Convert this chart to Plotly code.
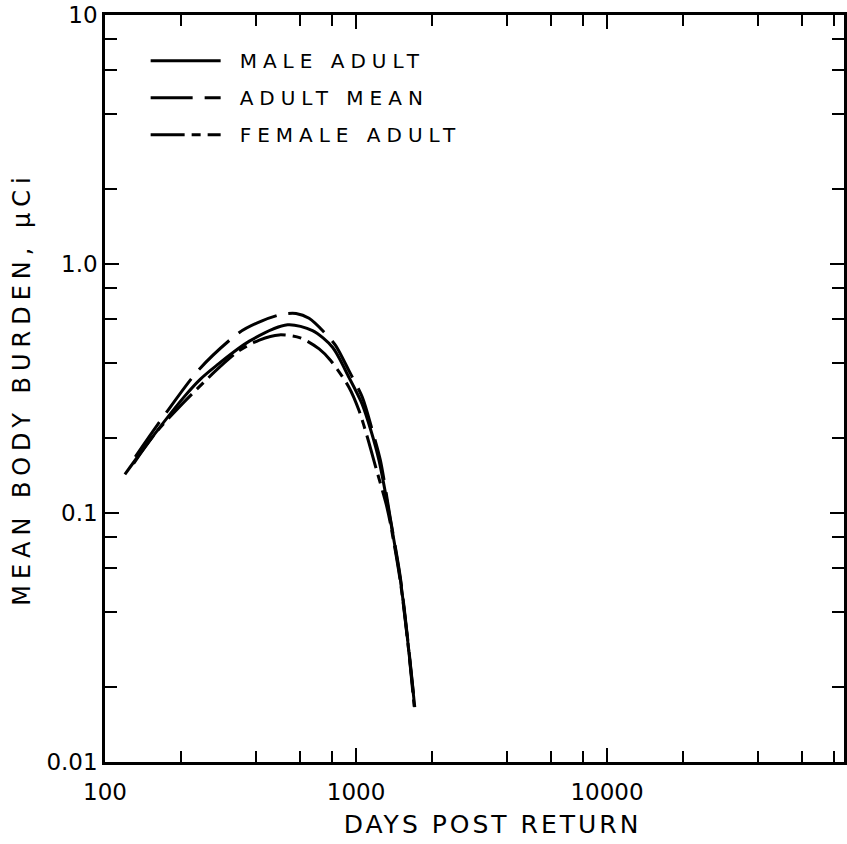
import plotly.graph_objects as go

# ---- data ----
male_days = [120, 151, 205, 240, 277, 376, 534, 671, 806, 938, 1056, 1152, 1234, 1370, 1502, 1616, 1714]
male_burden = [0.143, 0.196, 0.29, 0.345, 0.39, 0.49, 0.57, 0.54, 0.463, 0.350, 0.275, 0.211, 0.163, 0.0938, 0.054, 0.0291, 0.0166]

mean_days = [132, 170, 238, 343, 420, 510, 577, 650, 759, 830, 937, 1059, 1161, 1250, 1370, 1502, 1616, 1714]
mean_burden = [0.168, 0.242, 0.379, 0.531, 0.59, 0.629, 0.633, 0.605, 0.523, 0.47, 0.373, 0.292, 0.215, 0.163, 0.095, 0.055, 0.0295, 0.0168]

female_days = [130, 160, 200, 286, 343, 412, 494, 600, 713, 794, 937, 1028, 1109, 1200, 1320, 1370, 1502, 1616, 1705]
female_burden = [0.158, 0.211, 0.27, 0.385, 0.449, 0.495, 0.519, 0.505, 0.456, 0.409, 0.32, 0.258, 0.202, 0.152, 0.108, 0.091, 0.053, 0.0289, 0.0167]

series_names = ["MALE ADULT", "ADULT MEAN", "FEMALE ADULT"]

x_major = [100, 1000, 10000]
x_major_labels = ["100", "1000", "10000"]
x_minor = [200, 400, 600, 800, 2000, 4000, 6000, 8000, 20000, 40000, 60000, 80000]

y_major = [0.01, 0.1, 1, 10]
y_major_labels = ["0.01", "0.1", "1.0", "10"]
y_minor = [0.02, 0.04, 0.06, 0.08, 0.2, 0.4, 0.6, 0.8, 2, 4, 6, 8]

x_title = "DAYS POST RETURN"
y_title = "MEAN BODY BURDEN, μCi"

FONT = "DejaVu Sans"

fig = go.Figure()
styles = [
    dict(dash="solid"),
    dict(dash="42px,12px"),
    dict(dash="34px,7px,9px,7px"),
]
for name, xs, ys, st in zip(series_names,
                            [male_days, mean_days, female_days],
                            [male_burden, mean_burden, female_burden],
                            styles):
    fig.add_trace(go.Scatter(
        x=xs, y=ys, name=name, mode="lines", legendgroup=name,
        line=dict(color="black", width=3, dash=st["dash"], shape="spline", smoothing=0.8),
    ))

axis_common = dict(
    type="log", showgrid=False, zeroline=False,
    showline=True, linecolor="black", linewidth=2.5,
    ticks="inside", tickcolor="black", tickwidth=2, ticklen=14,
    mirror="ticks",
    tickfont=dict(family=FONT, size=23, color="black"),
    tickmode="array",
)

fig.update_xaxes(
    **axis_common,
    range=[2, 4.944],
    tickvals=x_major, ticktext=x_major_labels,
    minor=dict(tickmode="array", tickvals=x_minor, ticks="inside", ticklen=11,
               tickwidth=2, tickcolor="black", showgrid=False),
    title=dict(text=x_title, font=dict(family=FONT, size=25, color="black"), standoff=12),
    ticklabelstandoff=8,
)
fig.update_yaxes(
    **axis_common,
    range=[-2, 1],
    tickvals=y_major, ticktext=y_major_labels,
    minor=dict(tickmode="array", tickvals=y_minor, ticks="inside", ticklen=12,
               tickwidth=2, tickcolor="black", showgrid=False),
    title=dict(text=y_title, font=dict(family=FONT, size=24, color="black"), standoff=10),
)

fig.update_layout(
    width=847, height=844,
    margin=dict(l=105, r=0, t=15, b=82),
    plot_bgcolor="white", paper_bgcolor="white",
    font=dict(family=FONT, color="black"),
    legend=dict(
        x=0.055, y=0.965, xanchor="left", yanchor="top",
        bgcolor="rgba(0,0,0,0)", borderwidth=0,
        font=dict(family=FONT, size=20, color="black"),
        tracegroupgap=8, itemwidth=70,
    ),
    showlegend=True,
)

post = """
document.body.style.margin = '0';
document.body.style.overflow = 'hidden';
var gd = document.getElementById('{plot_id}');
function ls(){
  gd.querySelectorAll('.legend .scrollbox').forEach(function(e){
    e.removeAttribute('clip-path'); e.style.clipPath = 'none';
  });
  gd.querySelectorAll('.legendtext').forEach(function(t){
    t.style.letterSpacing = '6px';
    if (!t.getAttribute('data-sh')) {
      t.setAttribute('x', parseFloat(t.getAttribute('x') || 0) + 14);
      t.setAttribute('data-sh', '1');
    }
  });
  gd.querySelectorAll('.xtitle').forEach(function(t){
    t.style.letterSpacing = '3px';
    t.style.transform = 'translate(18px, 0px)';
  });
  gd.querySelectorAll('.ytitle').forEach(function(t){t.style.letterSpacing = '6px';});
}
ls();
gd.on('plotly_afterplot', ls);
"""

fig.write_html("out.html", post_script=post, config={"displayModeBar": False})
